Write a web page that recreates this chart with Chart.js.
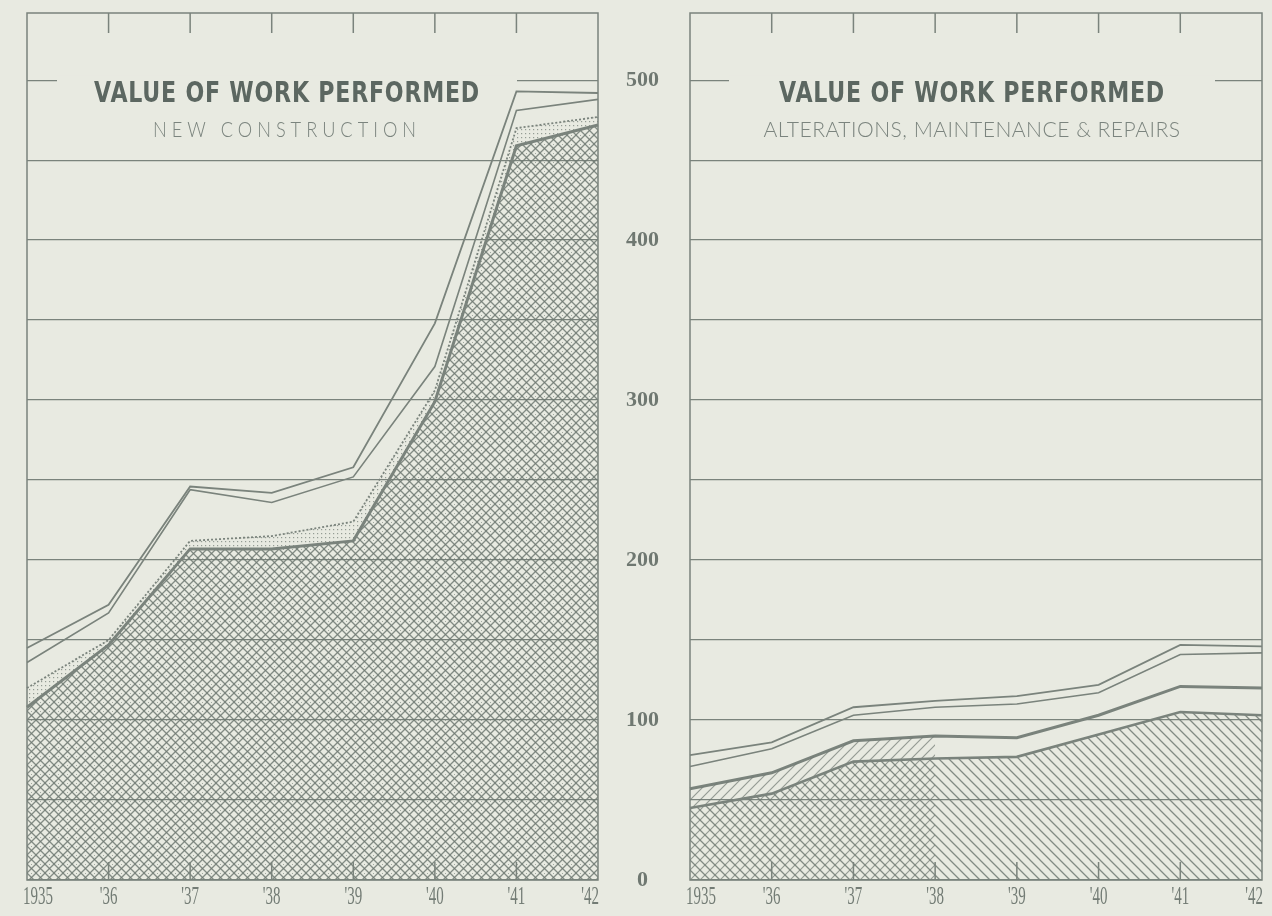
<!DOCTYPE html>
<html>
<head>
<meta charset="utf-8">
<script src="https://cdn.jsdelivr.net/npm/chart.js@4.4.1/dist/chart.umd.min.js"></script>
<style>
  html, body { margin: 0; padding: 0; background: #e8eae1; overflow: hidden; }
  #wrap { position: relative; width: 1272px; height: 916px; overflow: hidden; }
  canvas { position: absolute; top: 0; }
  #newChart { left: 0; }
  #amrChart { left: 670px; }
</style>
</head>
<body>
<div id="wrap">
  <canvas id="newChart" width="690" height="916"></canvas>
  <canvas id="amrChart" width="612" height="916"></canvas>
</div>
<script>
// years on the x axis (both panels)
const years = ['1935', "'36", "'37", "'38", "'39", "'40", "'41", "'42"];

// left panel - new construction (cumulative lines)
const newTop    = [145, 172, 246, 242, 258, 348, 493, 492];
const newSecond = [136, 167, 244, 236, 252, 321, 481, 488];
const newDotted = [120, 150, 212, 215, 224, 306, 470, 477];
const newBase   = [108, 147, 207, 207, 212, 299, 459, 472];

// right panel - alterations, maintenance & repairs
const amrTop    = [78, 86, 108, 112, 115, 122, 147, 146];
const amrSecond = [71, 82, 103, 108, 110, 117, 141, 142];
const amrMiddle = [57, 67, 87, 90, 89, 103, 121, 120];
const amrBase   = [45, 54, 74, 76, 77, 91, 105, 103];

const BG = '#e8eae1';
const INK = '#7a837c';
const TITLE_INK = '#5c6761';
const LABEL_INK = '#737c75';

function makePattern(size, draw) {
  const c = document.createElement('canvas');
  c.width = c.height = size;
  const g = c.getContext('2d');
  draw(g, size);
  return g.createPattern(c, 'repeat');
}

function diag(g, s, dir) {
  g.beginPath();
  for (let k = -1; k <= 1; k++) {
    if (dir > 0) { g.moveTo(k * s - 1, s + 1); g.lineTo(k * s + s + 1, -1); }
    else { g.moveTo(k * s - 1, -1); g.lineTo(k * s + s + 1, s + 1); }
  }
  g.stroke();
}

const crossPat = makePattern(9, (g, s) => {
  g.strokeStyle = 'rgba(112,122,115,0.85)'; g.lineWidth = 1.3;
  diag(g, s, 1); diag(g, s, -1);
  g.fillStyle = 'rgba(112,122,115,0.6)';
  g.fillRect(4, 0, 1, 1);
});
const dotPat = makePattern(4, (g) => {
  g.fillStyle = 'rgba(112,122,115,0.7)';
  g.fillRect(1, 1, 1.2, 1.2);
});
const backPat = makePattern(10, (g, s) => {
  g.strokeStyle = 'rgba(112,122,115,0.85)'; g.lineWidth = 1.3;
  diag(g, s, -1);
});
const fwdPat = makePattern(10, (g, s) => {
  g.strokeStyle = 'rgba(112,122,115,0.7)'; g.lineWidth = 1.2;
  diag(g, s, 1);
});

// draw text centred on cx and squeezed / stretched to a given width
function fitText(ctx, text, cx, baseline, width) {
  const w = ctx.measureText(text).width;
  ctx.save();
  ctx.translate(cx, baseline);
  ctx.scale(width / w, 1);
  ctx.textAlign = 'center';
  ctx.fillText(text, 0, 0);
  ctx.restore();
}

const titleBox = {
  id: 'titleBox',
  beforeDatasetsDraw(chart, args, o) {
    const { ctx, chartArea: a, scales: { y } } = chart;
    const cx = a.left + o.center;
    const yl = y.getPixelForValue(500);
    ctx.save();
    ctx.fillStyle = BG;
    ctx.fillRect(cx - o.half, yl - 5, o.half * 2, 10);
    ctx.textBaseline = 'alphabetic';
    ctx.fillStyle = TITLE_INK;
    ctx.font = 'bold 29px "DejaVu Sans", sans-serif';
    ctx.letterSpacing = '1px';
    fitText(ctx, 'VALUE OF WORK PERFORMED', cx, yl + 22, 386);
    ctx.fillStyle = '#7b847e';
    ctx.font = '300 22px Lato, "Open Sans", sans-serif';
    ctx.letterSpacing = o.spacing + 'px';
    fitText(ctx, o.subtitle, cx, yl + 57, o.subWidth);
    ctx.restore();
  }
};

const frame = {
  id: 'frame',
  afterDatasetsDraw(chart) {
    const { ctx, chartArea: a, scales: { x } } = chart;
    ctx.save();
    ctx.strokeStyle = INK;
    ctx.lineWidth = 1.5;
    ctx.strokeRect(a.left, a.top, a.right - a.left, a.bottom - a.top);
    ctx.beginPath();
    for (let i = 1; i < years.length - 1; i++) {
      const px = x.getPixelForValue(i);
      ctx.moveTo(px, a.top); ctx.lineTo(px, a.top + 20);
      ctx.moveTo(px, a.bottom); ctx.lineTo(px, a.bottom - 18);
    }
    ctx.stroke();
    // year labels, narrow serif like the print
    const sx = 0.6;
    ctx.font = '25px "Liberation Serif", "DejaVu Serif", serif';
    ctx.fillStyle = LABEL_INK;
    ctx.textBaseline = 'middle';
    ctx.textAlign = 'left';
    years.forEach((lab, i) => {
      const px = x.getPixelForValue(i);
      const w = ctx.measureText(lab).width * sx;
      let left = px - w / 2;
      if (i === 0) left = px - 4;
      if (i === years.length - 1) left = px - w + 1;
      ctx.save();
      ctx.translate(left, a.bottom + 17);
      ctx.scale(sx, 1);
      ctx.fillText(lab, 0, 0);
      ctx.restore();
    });
    ctx.restore();
  }
};

function lineSet(data, width, extra) {
  return Object.assign({
    data: data, borderColor: INK, borderWidth: width,
    pointRadius: 0, tension: 0, fill: false
  }, extra || {});
}

function xAxis() {
  return {
    grid: { display: false },
    border: { display: false },
    ticks: { display: false },
    afterFit: s => { s.height = 36; }
  };
}

const dropTop = s => { s.ticks = s.ticks.filter(t => t.value <= 500); };

Chart.defaults.animation = false;
Chart.defaults.plugins.legend.display = false;
Chart.defaults.plugins.tooltip.enabled = false;

new Chart(document.getElementById('newChart'), {
  type: 'line',
  data: {
    labels: years,
    datasets: [
      lineSet(newBase, 3, { fill: 'origin', backgroundColor: crossPat }),
      lineSet(newDotted, 1.8, { fill: '-1', backgroundColor: dotPat, borderDash: [2, 2] }),
      lineSet(newSecond, 1.6),
      lineSet(newTop, 1.8)
    ]
  },
  options: {
    responsive: false,
    layout: { padding: { left: 27, top: 13, right: 0, bottom: 0 } },
    scales: {
      x: xAxis(),
      y: {
        position: 'right', min: 0, max: 542,
        grid: { color: INK, lineWidth: 1.3, drawTicks: true, tickLength: 28, tickColor: 'rgba(0,0,0,0)' },
        border: { display: false },
        afterBuildTicks: dropTop,
        ticks: {
          stepSize: 50, crossAlign: 'center', padding: 0,
          callback: v => (v % 100 === 0 ? v : ''),
          color: '#6f7871',
          font: { family: '"Liberation Serif", "DejaVu Serif", serif', size: 22, weight: 'bold', lineHeight: 1 }
        },
        afterFit: s => { s.width = 92; }
      }
    },
    plugins: {
      filler: { drawTime: 'beforeDatasetDraw' },
      titleBox: { center: 260, half: 230, subtitle: 'NEW CONSTRUCTION', spacing: 6, subWidth: 268 }
    }
  },
  plugins: [titleBox, frame]
});

// hatch overlay only over the first years, where the picture is cross-hatched
const amrOverlay = amrMiddle.map((v, i) => (i <= 3 ? v : null));

new Chart(document.getElementById('amrChart'), {
  type: 'line',
  data: {
    labels: years,
    datasets: [
      lineSet(amrBase, 2.6, { fill: 'origin', backgroundColor: backPat }),
      lineSet(amrOverlay, 0, { fill: 'origin', backgroundColor: fwdPat, borderColor: 'transparent' }),
      lineSet(amrMiddle, 3),
      lineSet(amrSecond, 1.6),
      lineSet(amrTop, 1.8)
    ]
  },
  options: {
    responsive: false,
    layout: { padding: { left: 0, top: 13, right: 20, bottom: 0 } },
    scales: {
      x: xAxis(),
      y: {
        position: 'left', min: 0, max: 542,
        grid: { color: INK, lineWidth: 1.3, drawTicks: false },
        border: { display: false },
        afterBuildTicks: dropTop,
        ticks: { display: false, stepSize: 50 },
        afterFit: s => { s.width = 20; }
      }
    },
    plugins: {
      filler: { drawTime: 'beforeDatasetDraw' },
      titleBox: { center: 282, half: 243, subtitle: 'ALTERATIONS, MAINTENANCE & REPAIRS', spacing: 0.5, subWidth: 417 }
    }
  },
  plugins: [titleBox, frame]
});
</script>
</body>
</html>
